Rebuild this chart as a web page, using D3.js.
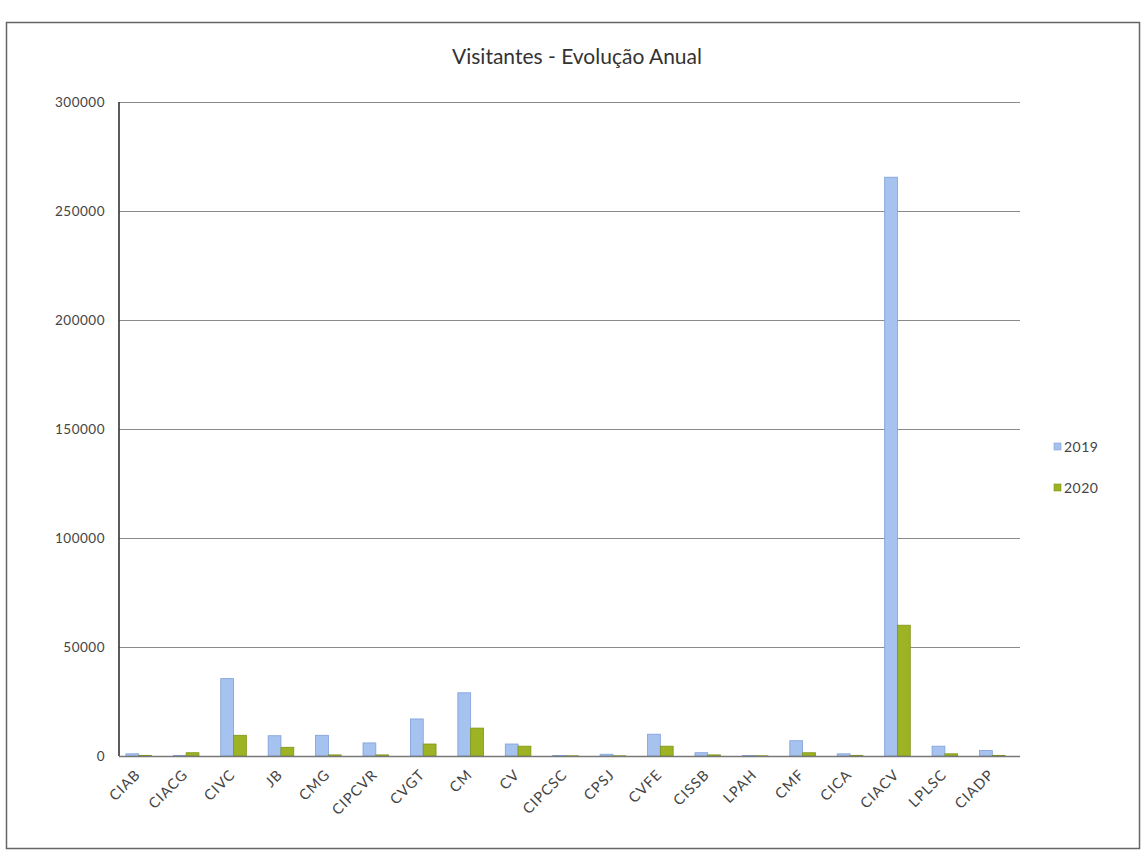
<!DOCTYPE html>
<html>
<head>
<meta charset="utf-8">
<script src="https://cdn.jsdelivr.net/npm/d3@7"></script>
<style>
  html, body { margin: 0; padding: 0; background: #fff; }
  svg { display: block; }
  text { font-family: "Lato", "DejaVu Sans", sans-serif; fill: #333; }
</style>
</head>
<body>
<svg id="chart" width="1145" height="854"></svg>
<script>
// Visitors per site, 2019 vs 2020
const categories = ["CIAB", "CIACG", "CIVC", "JB", "CMG", "CIPCVR", "CVGT", "CM", "CV", "CIPCSC",
                    "CPSJ", "CVFE", "CISSB", "LPAH", "CMF", "CICA", "CIACV", "LPLSC", "CIADP"];
const series = ["2019", "2020"];
const values2019 = [1000, 300, 35500, 9300, 9500, 6000, 17000, 29000, 5500, 200,
                    800, 10000, 1500, 200, 7000, 1000, 265500, 4500, 2500];
const values2020 = [300, 1500, 9500, 4000, 500, 500, 5500, 12800, 4500, 100,
                    100, 4500, 500, 100, 1500, 300, 60000, 1000, 300];
const yTicks = [0, 50000, 100000, 150000, 200000, 250000, 300000];

const colors = { "2019": "#a6c2ee", "2020": "#9db324" };
const edges  = { "2019": "#7f9fd8", "2020": "#7f9414" };

const svg = d3.select("#chart");

// outer frame
svg.append("rect")
  .attr("x", 6.5).attr("y", 22.5).attr("width", 1133).attr("height", 826)
  .attr("fill", "none").attr("stroke", "#666").attr("stroke-width", 1.5);

const plot = { left: 119, right: 1020, top: 102, bottom: 756 };

const x = d3.scaleBand().domain(categories).range([plot.left - 4, plot.right - 4]).paddingInner(0).paddingOuter(0);
const y = d3.scaleLinear().domain([0, 300000]).range([plot.bottom, plot.top]);

// gridlines
svg.append("g").selectAll("line").data(yTicks.filter(d => d > 0)).join("line")
  .attr("x1", plot.left).attr("x2", plot.right)
  .attr("y1", d => y(d) + 0.5).attr("y2", d => y(d) + 0.5)
  .attr("stroke", "#8a8a8a").attr("stroke-width", 1.2);

// y axis labels
const yAxis = d3.axisLeft(y).tickValues(yTicks).tickSize(0).tickPadding(14).tickFormat(d3.format("d"));
const gy = svg.append("g").attr("transform", `translate(${plot.left},0)`).call(yAxis);
gy.select(".domain").remove();
gy.selectAll("text").style("font-size", "13.5px").style("fill", "#444").style("letter-spacing", "0.5px").attr("dy", "0.35em");
svg.append("line")
  .attr("x1", plot.left).attr("x2", plot.left).attr("y1", plot.top).attr("y2", plot.bottom)
  .attr("stroke", "#333").attr("stroke-width", 1.6);

// bars
const inner = d3.scaleBand().domain(series).range([0, x.bandwidth() * 0.54]);
const off = (x.bandwidth() - x.bandwidth() * 0.54) / 2;
const data = categories.map((c, i) => ({ c, v: { "2019": values2019[i], "2020": values2020[i] } }));

const groups = svg.append("g").selectAll("g").data(data).join("g")
  .attr("transform", d => `translate(${x(d.c) + off},0)`);
groups.selectAll("rect").data(d => series.map(s => ({ s, v: d.v[s] }))).join("rect")
  .attr("x", d => inner(d.s))
  .attr("y", d => y(d.v))
  .attr("width", inner.bandwidth())
  .attr("height", d => y(0) - y(d.v))
  .attr("fill", d => colors[d.s])
  .attr("stroke", d => edges[d.s])
  .attr("stroke-width", 0.8);

// x axis
svg.append("line")
  .attr("x1", plot.left).attr("x2", plot.right).attr("y1", plot.bottom + 0.5).attr("y2", plot.bottom + 0.5)
  .attr("stroke", "#777").attr("stroke-width", 1.4);
const xAxis = d3.axisBottom(x).tickSize(0).tickPadding(0);
const gx = svg.append("g").attr("transform", `translate(0,${plot.bottom})`).call(xAxis);
gx.select(".domain").remove();
gx.selectAll("text")
  .style("font-size", "14.5px").style("fill", "#444").style("letter-spacing", "1px")
  .attr("text-anchor", "end")
  .attr("transform", "translate(-1,16) rotate(-45)")
  .attr("dy", "0.35em");

// title
svg.append("text")
  .attr("x", 577).attr("y", 64).attr("text-anchor", "middle")
  .style("font-size", "21px").style("fill", "#333")
  .text("Visitantes - Evolução Anual");

// legend
const lg = svg.append("g").attr("transform", "translate(1054,447)");
lg.selectAll("g").data(series).join("g")
  .attr("transform", (d, i) => `translate(0,${i * 41})`)
  .each(function (d) {
    const g = d3.select(this);
    g.append("rect").attr("x", 0).attr("y", -4).attr("width", 7).attr("height", 7)
      .attr("fill", colors[d]).attr("stroke", edges[d]).attr("stroke-width", 0.6);
    g.append("text").attr("x", 10).attr("y", 0).attr("dy", "0.35em")
      .style("font-size", "14px").style("fill", "#444").style("letter-spacing", "0.5px").text(d);
  });
</script>
</body>
</html>
